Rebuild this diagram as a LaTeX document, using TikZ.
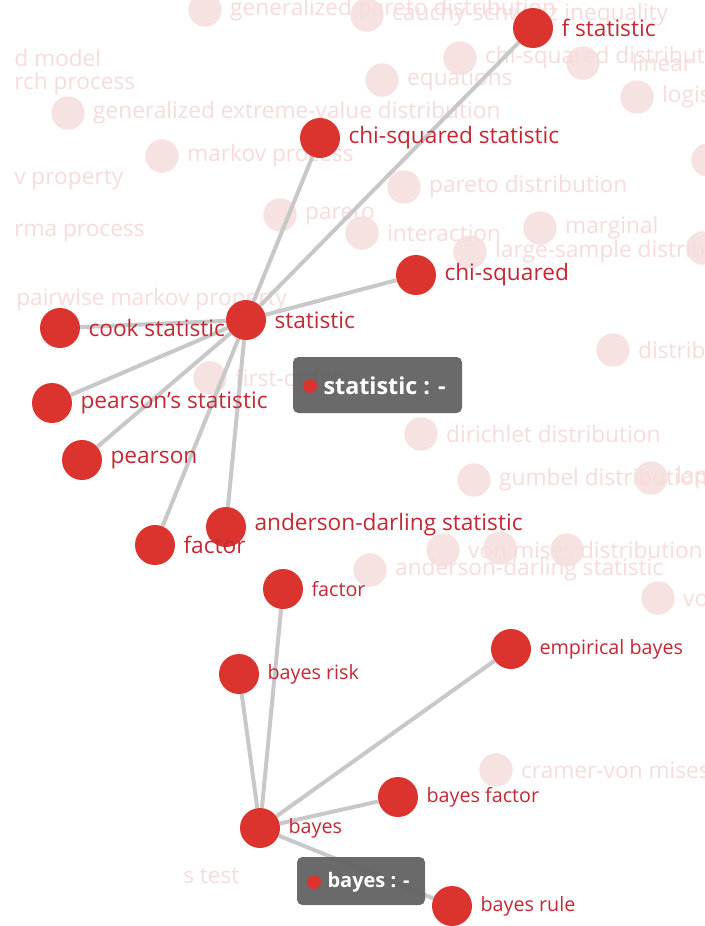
\documentclass[tikz,border=0pt]{standalone}
\usepackage{fontspec}
\setmainfont{Open Sans}
\usetikzlibrary{positioning}
\definecolor{nodered}{RGB}{219,52,46}
\definecolor{lblred}{RGB}{196,40,52}
\definecolor{linkgray}{RGB}{200,200,200}
\definecolor{faintgray}{RGB}{233,233,233}
\definecolor{dimpink}{RGB}{247,226,226}
\definecolor{dimtext}{RGB}{247,220,220}
\definecolor{tipgray}{RGB}{98,98,98}
\pgfdeclarelayer{faint}
\pgfdeclarelayer{links}
\pgfdeclarelayer{front}
\pgfsetlayers{faint,main,links,front}

\begin{document}
\begin{tikzpicture}[x=0.75pt,y=0.75pt,yscale=-1,
  hot/.style={circle,fill=nodered,draw=none,minimum size=30pt,inner sep=0pt},
  hotlbl/.style={text=lblred,inner sep=0pt,font=\fontsize{17}{20}\selectfont},
  smalllbl/.style={text=lblred,inner sep=0pt,font=\fontsize{14.8}{17}\selectfont},
  dim/.style={circle,fill=dimpink,draw=none,minimum size=25pt,inner sep=0pt},
  dimlbl/.style={text=dimtext,inner sep=0pt,font=\fontsize{17}{20}\selectfont},
  link/.style={draw=linkgray,line width=3pt},
  faintlink/.style={draw=faintgray,line width=1.1pt},
  tipbox/.style={fill=tipgray,fill opacity=0.95,rounded corners=4pt,draw=none,inner sep=0pt},
  tipdot/.style={circle,fill=nodered,draw=none,minimum size=10.5pt,inner sep=0pt},
  tiptxt/.style={text=white,inner sep=0pt,font=\bfseries\fontsize{17.5}{20}\selectfont}]
\useasboundingbox (0,0) rectangle (705,926);
\fill[white] (0,0) rectangle (705,926);
\clip (0,0) rectangle (705,926);

% faded background graph
\node[dim] (g1) at (205,10) {};
\node[dim] (g2) at (367,15) {};
\node[dim] (g3) at (460,58) {};
\node[dim] (g4) at (583,63) {};
\node[dim] (g5) at (382,80) {};
\node[dim] (g6) at (637,97) {};
\node[dim] (g7) at (68,113) {};
\node[dim] (g8) at (162,156) {};
\node[dim] (g9) at (280,215) {};
\node[dim] (g10) at (404,187) {};
\node[dim] (g11) at (362,233) {};
\node[dim] (g12) at (540,228) {};
\node[dim] (g13) at (470,252) {};
\node[dim] (g14) at (708,160) {};
\node[dim] (g15) at (703,248) {};
\node[dim] (g16) at (613,350) {};
\node[dim] (g17) at (210,378) {};
\node[dim] (g18) at (421,434) {};
\node[dim] (g19) at (474,480) {};
\node[dim] (g20) at (651,478) {};
\node[dim] (g21) at (443,550) {};
\node[dim] (g22) at (500,548) {};
\node[dim] (g23) at (567,550) {};
\node[dim] (g24) at (370,570) {};
\node[dim] (g25) at (658,598) {};
\node[dim] (g26) at (496,770) {};

% Text Node
\node[dimlbl,right=6pt of g1] (g1L) {generalized pareto distribution};
\node[dimlbl,right=6pt of g2] (g2L) {cauchy-schwarz inequality};
\node[dimlbl,right=6pt of g3] (g3L) {chi-squared distribution};
\node[dimlbl,right=6pt of g4,xshift=18pt] (g4L) {linear};
\node[dimlbl,right=6pt of g5] (g5L) {equations};
\node[dimlbl,right=6pt of g6] (g6L) {logistic};
\node[dimlbl,right=6pt of g7] (g7L) {generalized extreme-value distribution};
\node[dimlbl,right=6pt of g8] (g8L) {markov process};
\node[dimlbl,right=6pt of g9] (g9L) {pareto};
\node[dimlbl,right=6pt of g10] (g10L) {pareto distribution};
\node[dimlbl,right=6pt of g11] (g11L) {interaction};
\node[dimlbl,right=6pt of g12] (g12L) {marginal};
\node[dimlbl,right=6pt of g13] (g13L) {large-sample distribution};
\node[dimlbl,right=6pt of g16] (g16L) {distribution};
\node[dimlbl,right=6pt of g17] (g17L) {first-order};
\node[dimlbl,right=6pt of g18] (g18L) {dirichlet distribution};
\node[dimlbl,right=6pt of g19] (g19L) {gumbel distribution};
\node[dimlbl,right=6pt of g20] (g20L) {laplace};
\node[dimlbl,right=6pt of g21] (g21L) {von mises distribution};
\node[dimlbl,right=6pt of g24] (g24L) {anderson-darling statistic};
\node[dimlbl,right=6pt of g25] (g25L) {von mises};
\node[dimlbl,right=6pt of g26] (g26L) {cramer-von mises};
\node[dimlbl,anchor=west] (t1) at (14,58) {d model};
\node[dimlbl,anchor=west] (t2) at (14,84) {rch process};
\node[dimlbl,anchor=west] (t3) at (14,180) {v property};
\node[dimlbl,anchor=west] (t4) at (14,233) {rma process};
\node[dimlbl,anchor=west] (t5) at (16,300) {pairwise markov property};
\node[dimlbl,anchor=west] (t6) at (183,876) {s test};

\coordinate (e1) at (0,95);
\coordinate (e2) at (0,190);
\coordinate (e3) at (0,265);
\coordinate (e4) at (705,300);
\coordinate (e5) at (705,390);
\coordinate (e6) at (705,440);
\coordinate (e7) at (705,20);

\begin{pgfonlayer}{faint}
\foreach \a/\b in {g1/g9,g1/g5,g1/e1,g7/g8,g8/g9,g8/g10,g8/e2,g9/e3,g2/g4,g3/g4,g3/g10,
    g4/g16,g6/g16,g5/g10,g10/g12,g11/g13,g9/g11,g12/g16,g13/g16,g14/g16,g15/g16,
    g16/g18,g16/g19,g16/g20,g16/g21,g16/g23,g16/g25,g16/g24,g16/e4,g16/e5,g16/e6,
    g4/e7,g18/g19,g21/g24,g22/g23,g24/g26,g25/g26,g19/g24,g11/g18}
  \draw[faintlink] (\a) -- (\b);
\end{pgfonlayer}

\begin{pgfonlayer}{front}
% statistic cluster
\node[hot] (stat) at (246,320) {};
\node[hot] (fstat) at (533,28) {};
\node[hot] (chisqstat) at (320,138) {};
\node[hot] (chisq) at (416,275) {};
\node[hot] (cook) at (60,328) {};
\node[hot] (pearsonst) at (52,403) {};
\node[hot] (pearson) at (82,460) {};
\node[hot] (factorA) at (155,545) {};
\node[hot] (anderson) at (226,527) {};

\node[hotlbl,right=6pt of stat] (statL) {statistic};
\node[hotlbl,right=6pt of fstat] (fstatL) {f statistic};
\node[hotlbl,right=6pt of chisqstat] (chisqstatL) {chi-squared statistic};
\node[hotlbl,right=6pt of chisq] (chisqL) {chi-squared};
\node[hotlbl,right=6pt of cook] (cookL) {cook statistic};
\node[hotlbl,right=6pt of pearsonst] (pearsonstL) {pearson's statistic};
\node[hotlbl,right=6pt of pearson] (pearsonL) {pearson};
\node[hotlbl,right=6pt of factorA] (factorAL) {factor};
\node[hotlbl,right=6pt of anderson,yshift=2pt] (andersonL) {anderson-darling statistic};

% bayes cluster
\node[hot] (bayes) at (260,828) {};
\node[hot] (factorB) at (283,589) {};
\node[hot] (bayesrisk) at (239,674) {};
\node[hot] (empbayes) at (511,649) {};
\node[hot] (bayesfac) at (398,797) {};
\node[hot] (bayesrule) at (452,906) {};

\node[smalllbl,right=6pt of bayes] (bayesL) {bayes};
\node[smalllbl,right=6pt of factorB] (factorBL) {factor};
\node[smalllbl,right=6pt of bayesrisk] (bayesriskL) {bayes risk};
\node[smalllbl,right=6pt of empbayes] (empbayesL) {empirical bayes};
\node[smalllbl,right=6pt of bayesfac] (bayesfacL) {bayes factor};
\node[smalllbl,right=6pt of bayesrule] (bayesruleL) {bayes rule};
\end{pgfonlayer}

\begin{pgfonlayer}{links}
\foreach \t in {fstat,chisqstat,chisq,cook,pearsonst,pearson,factorA,anderson}
  \draw[link] (stat) -- (\t);
\foreach \t in {factorB,bayesrisk,empbayes,bayesfac,bayesrule}
  \draw[link] (bayes) -- (\t);
\end{pgfonlayer}

\begin{pgfonlayer}{front}
% tooltips
\node[tipbox,minimum width=126.75pt,minimum height=42pt] (tipS) at (377.5,385) {};
\node[tipdot] (tipSdot) at (310,386) {};
\node[tiptxt,right=4.5pt of tipSdot] (tipStxt) {statistic : -};

\node[tipbox,minimum width=96pt,minimum height=36pt] (tipB) at (361,881) {};
\node[tipdot] (tipBdot) at (314,882) {};
\node[tiptxt,font=\bfseries\fontsize{15}{18}\selectfont,right=4.5pt of tipBdot] (tipBtxt) {bayes : -};
\end{pgfonlayer}
\end{tikzpicture}
\end{document}
